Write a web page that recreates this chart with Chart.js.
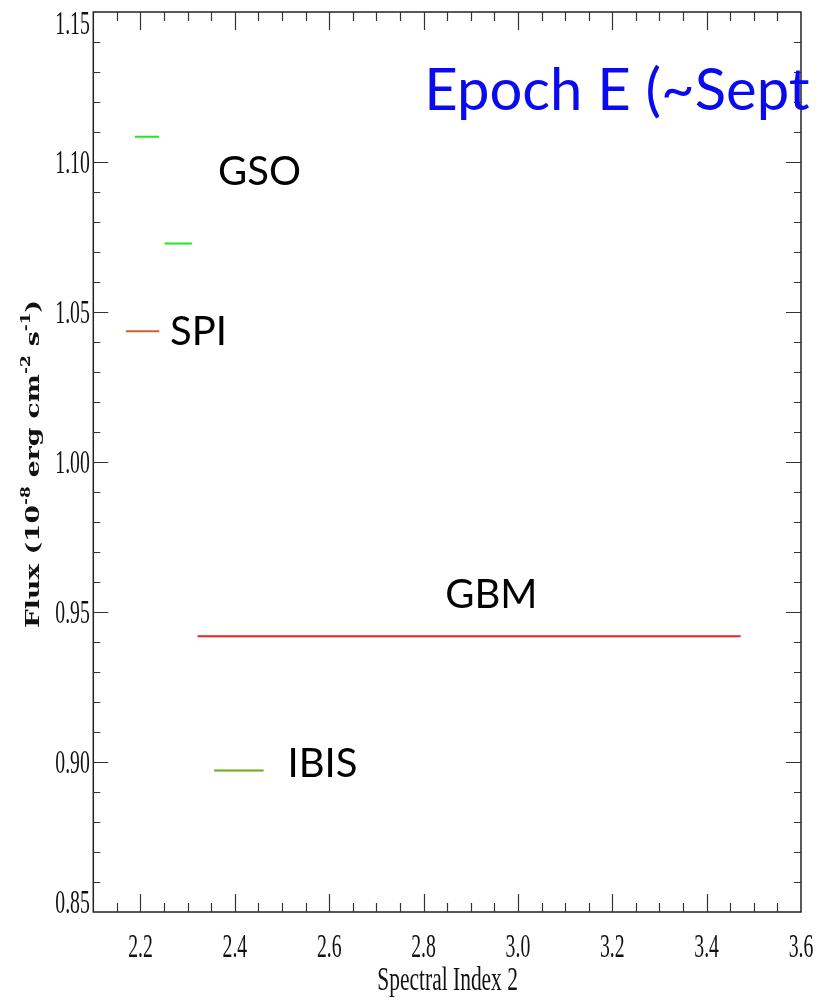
<!DOCTYPE html>
<html>
<head>
<meta charset="utf-8">
<script src="https://cdn.jsdelivr.net/npm/chart.js@4.4.1/dist/chart.umd.min.js"></script>
<style>
  html, body { margin: 0; padding: 0; background: #fff; }
  canvas { display: block; }
</style>
</head>
<body>
<canvas id="fluxChart" width="822" height="1004"></canvas>
<script>

// ---------- data ----------
const instruments = ["GSO", "GSO", "SPI", "GBM", "IBIS"];
const indexLow    = [2.188, 2.251, 2.169, 2.321, 2.356];
const indexHigh   = [2.239, 2.309, 2.240, 3.472, 2.461];
const fluxValues  = [1.1084, 1.0728, 1.0436, 0.9419, 0.8972];

const xTickValues = [2.2, 2.4, 2.6, 2.8, 3.0, 3.2, 3.4, 3.6];
const yTickValues = [0.85, 0.90, 0.95, 1.00, 1.05, 1.10, 1.15];

const labelNames = ["GSO", "SPI", "GBM", "IBIS"];
const labelIndex = [2.3645, 2.2627, 2.8459, 2.5115];
const labelFlux  = [1.0923, 1.0390, 0.9512, 0.8949];

const titleText  = "Epoch E (~Sept";
const titleIndex = 2.8015;
const titleFlux  = 1.1173;

const xTitle = "Spectral Index 2";
const yTitleParts = [
    ["Flux (10", false], ["-8", true], [" erg cm", false],
    ["-2", true], [" s", false], ["-1", true], [")", false]
];

// ---------- styles ----------
const colors = {
    GSO: "#22e622",
    SPI: "#c4642c",
    GBM: "#f21c1c",
    IBIS: "#6aaa14"
};

const datasets = instruments.map((name, i) => ({
    label: name,
    data: [
        { x: indexLow[i], y: fluxValues[i] },
        { x: indexHigh[i], y: fluxValues[i] }
    ],
    borderColor: colors[name],
    borderWidth: 2,
    pointRadius: 0,
    fill: false,
    tension: 0
}));

// frame, inward ticks, labels and titles
const framePlugin = {
    id: "frame",
    afterDraw(chart) {
        const ctx = chart.ctx;
        const a = chart.chartArea;
        const xs = chart.scales.x;
        const ys = chart.scales.y;

        ctx.save();
        ctx.strokeStyle = "#222";
        ctx.lineWidth = 1.5;
        ctx.strokeRect(a.left, a.top, a.right - a.left, a.bottom - a.top);

        ctx.lineWidth = 1.2;
        ctx.strokeStyle = "#333";
        ctx.beginPath();
        // x ticks every 0.05, major every 0.2
        for (let k = 1; k < 30; k++) {
            const v = 2.1 + k * 0.05;
            const px = Math.round(xs.getPixelForValue(v)) + 0.5;
            const major = Math.abs((v - 2.2) / 0.2 - Math.round((v - 2.2) / 0.2)) < 1e-6;
            const len = major ? 18 : 9;
            ctx.moveTo(px, a.bottom); ctx.lineTo(px, a.bottom - len);
            ctx.moveTo(px, a.top); ctx.lineTo(px, a.top + len);
        }
        // y ticks every 0.01, major every 0.05
        for (let k = 1; k < 30; k++) {
            const v = 0.85 + k * 0.01;
            const py = Math.round(ys.getPixelForValue(v)) + 0.5;
            const major = k % 5 === 0;
            const len = major ? 15 : 7;
            ctx.moveTo(a.left, py); ctx.lineTo(a.left + len, py);
            ctx.moveTo(a.right, py); ctx.lineTo(a.right - len, py);
        }
        ctx.stroke();

        // tick labels (condensed serif)
        ctx.fillStyle = "#111";
        ctx.font = "34px 'Liberation Serif'";
        ctx.textBaseline = "alphabetic";
        const squeeze = 0.58;

        xTickValues.forEach(v => {
            const t = v.toFixed(1);
            const px = xs.getPixelForValue(v);
            ctx.save();
            ctx.translate(px, a.bottom + 45);
            ctx.scale(squeeze, 1);
            ctx.textAlign = "center";
            ctx.fillText(t, 0, 0);
            ctx.restore();
        });

        yTickValues.forEach(v => {
            const t = v.toFixed(2);
            const py = ys.getPixelForValue(v);
            const base = Math.min(Math.max(py + 11, a.top + 22), a.bottom + 1);
            ctx.save();
            ctx.translate(a.left - 3.5, base);
            ctx.scale(squeeze, 1);
            ctx.textAlign = "right";
            ctx.fillText(t, 0, 0);
            ctx.restore();
        });

        // x axis title
        ctx.font = "33px 'Liberation Serif'";
        ctx.save();
        ctx.translate((a.left + a.right) / 2 + 0.5, 990);
        ctx.scale(0.65, 1);
        ctx.textAlign = "center";
        ctx.fillText(xTitle, 0, 0);
        ctx.restore();

        // y axis title, rotated, with superscripts
        const mainFont = "bold 19px 'DejaVu Serif'";
        const supFont = "bold 12px 'DejaVu Serif'";
        let total = 0;
        const widths = yTitleParts.map(([t, sup]) => {
            ctx.font = sup ? supFont : mainFont;
            const w = ctx.measureText(t).width;
            total += w;
            return w;
        });
        const target = 328;
        ctx.save();
        ctx.translate(39, 464);
        ctx.rotate(-Math.PI / 2);
        ctx.scale(target / total, 1);
        ctx.textAlign = "left";
        let cx = -total / 2;
        yTitleParts.forEach(([t, sup], i) => {
            ctx.font = sup ? supFont : mainFont;
            ctx.fillText(t, cx, sup ? -9 : 0);
            cx += widths[i];
        });
        ctx.restore();

        // instrument labels
        ctx.font = "40px Lato";
        ctx.textAlign = "left";
        ctx.fillStyle = "#000";
        labelNames.forEach((name, i) => {
            ctx.fillText(name, xs.getPixelForValue(labelIndex[i]), ys.getPixelForValue(labelFlux[i]));
        });

        // overlay title (cut at the right like the slide)
        ctx.beginPath();
        ctx.rect(0, 0, 809, chart.height);
        ctx.clip();
        ctx.fillStyle = "#0a0aee";
        ctx.font = "58px Lato";
        ctx.fillText(titleText, xs.getPixelForValue(titleIndex), ys.getPixelForValue(titleFlux));

        ctx.restore();
    }
};

const chart = new Chart(document.getElementById("fluxChart").getContext("2d"), {
    type: "line",
    data: { datasets },
    options: {
        responsive: false,
        animation: false,
        devicePixelRatio: 1,
        layout: {
            padding: { left: 93.3, top: 12, right: 21, bottom: 92 }
        },
        plugins: {
            legend: { display: false },
            tooltip: { enabled: false }
        },
        scales: {
            x: { type: "linear", min: 2.1, max: 3.6, display: false },
            y: { type: "linear", min: 0.85, max: 1.15, display: false }
        }
    },
    plugins: [framePlugin]
});

</script>
</body>
</html>
